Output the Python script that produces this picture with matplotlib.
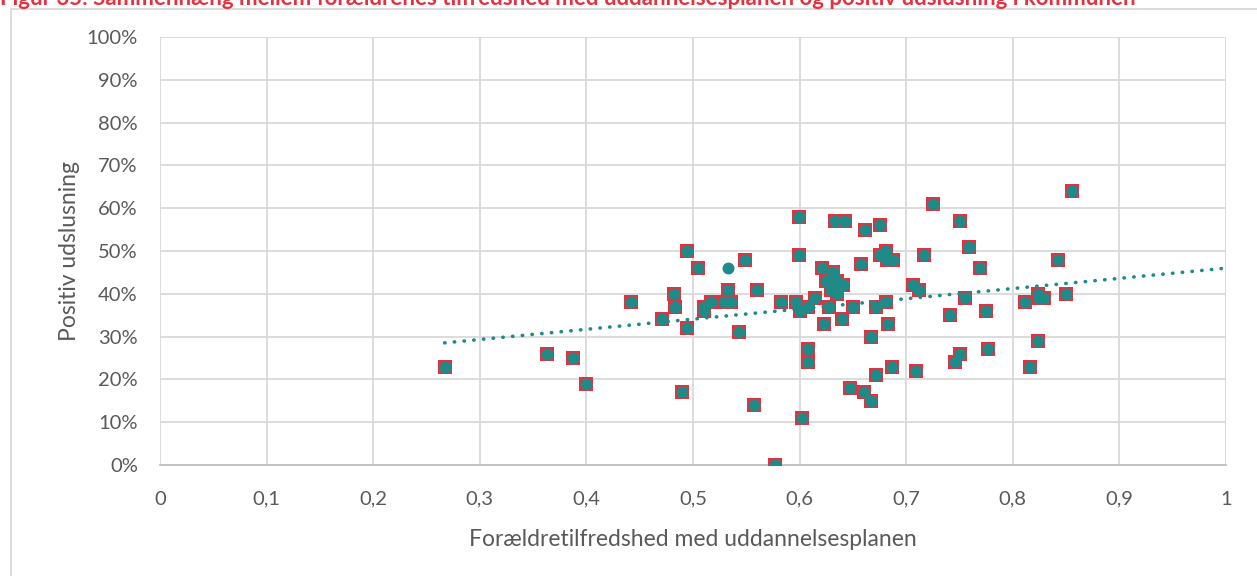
import numpy as np
import matplotlib.pyplot as plt
from matplotlib.ticker import FuncFormatter, MultipleLocator

plt.rcParams['font.family'] = ['Lato', 'DejaVu Sans']

# forældretilfredshed (x) og positiv udslusning i % (y)
tilfredshed = [0.267, 0.363, 0.387, 0.400, 0.442, 0.471, 0.482, 0.483, 0.490, 0.494,
               0.494, 0.505, 0.510, 0.510, 0.517, 0.529, 0.536, 0.533, 0.549, 0.543,
               0.557, 0.560, 0.577, 0.583, 0.597, 0.600, 0.599, 0.599, 0.602, 0.608,
               0.608, 0.608, 0.614, 0.621, 0.631, 0.625, 0.635, 0.641, 0.629, 0.635,
               0.628, 0.623, 0.640, 0.633, 0.643, 0.647, 0.650, 0.658, 0.660, 0.661,
               0.667, 0.667, 0.672, 0.672, 0.675, 0.675, 0.681, 0.681, 0.682, 0.683,
               0.688, 0.687, 0.706, 0.709, 0.712, 0.717, 0.725, 0.741, 0.746, 0.750,
               0.750, 0.755, 0.759, 0.769, 0.775, 0.777, 0.811, 0.816, 0.824, 0.825,
               0.829, 0.824, 0.842, 0.850, 0.856]
udslusning = [23, 26, 25, 19, 38, 34, 40, 37, 17, 50,
              32, 46, 37, 36, 38, 38, 38, 41, 48, 31,
              14, 41, 0, 38, 38, 36, 49, 58, 11, 37,
              27, 24, 39, 46, 45, 43, 43, 42, 41, 40,
              37, 33, 34, 57, 57, 18, 37, 47, 17, 55,
              30, 15, 37, 21, 56, 49, 50, 38, 48, 33,
              48, 23, 42, 22, 41, 49, 61, 35, 24, 26,
              57, 39, 51, 46, 36, 27, 38, 23, 40, 39,
              39, 29, 48, 40, 64]
# punkt der kun har cirkel (ingen firkant bag)
ekstra_x = [0.533]
ekstra_y = [46]

teal = '#1F8B89'
rod = '#E2323F'
grid_c = '#D9D9D9'
tekst_c = '#595959'

x = np.array(tilfredshed)
y = np.array(udslusning) / 100
alle_x = np.concatenate([x, ekstra_x])
alle_y = np.concatenate([y, np.array(ekstra_y) / 100])

fig = plt.figure(figsize=(12.57, 5.76), dpi=100)
ax = fig.add_axes([160/1257, 1 - 465/576, (1226 - 160)/1257, (465 - 37)/576])

ax.plot(x, y, 's', color=rod, markersize=9.8, markeredgewidth=0, zorder=3)
ax.plot(alle_x, alle_y, 'o', color=teal, markersize=8.6, markeredgewidth=0, zorder=4)

# lineær tendenslinje
k, m = np.polyfit(alle_x, alle_y, 1)
tx = np.array([alle_x.min(), 1.0])
ax.plot(tx, k * tx + m, linestyle=(0, (0.1, 2.6)), color=teal, linewidth=2.6,
        dash_capstyle='round', zorder=5)

ax.set_xlim(0, 1)
ax.set_ylim(0, 1)
ax.xaxis.set_major_locator(MultipleLocator(0.1))
ax.yaxis.set_major_locator(MultipleLocator(0.1))
ax.xaxis.set_major_formatter(FuncFormatter(lambda v, p: '0' if v == 0 else ('1' if v == 1 else f'{v:.1f}'.replace('.', ','))))
ax.yaxis.set_major_formatter(FuncFormatter(lambda v, p: f'{v*100:.0f}%'))
ax.grid(True, color=grid_c, linewidth=1.3)
ax.set_axisbelow(True)
for s in ['top', 'right', 'left']:
    ax.spines[s].set_visible(False)
ax.spines['bottom'].set_color('#BFBFBF')
ax.spines['bottom'].set_linewidth(1.3)
ax.tick_params(length=0, labelsize=14.5, colors=tekst_c)
ax.tick_params(axis='y', pad=16)
ax.tick_params(axis='x', pad=18.5)

ax.set_xlabel('Forældretilfredshed med uddannelsesplanen', fontsize=16.5, color=tekst_c, labelpad=15)
ax.set_ylabel('Positiv udslusning', fontsize=16.5, color=tekst_c, labelpad=5)

# ramme om diagrammet
ramme = plt.Rectangle((11/1257, -0.05), 1.1, 1 - 9/576 + 0.05, transform=fig.transFigure,
                      fill=False, edgecolor=grid_c, linewidth=1.3)
fig.patches.append(ramme)

fig.text(0, 1 - 5/576, 'Figur 35: Sammenhæng mellem forældrenes tilfredshed med uddannelsesplanen og positiv udslusning i kommunen',
         color='#E2323F', fontsize=16, fontweight='bold', va='baseline', ha='left')

fig.savefig('out.png', dpi=100)
